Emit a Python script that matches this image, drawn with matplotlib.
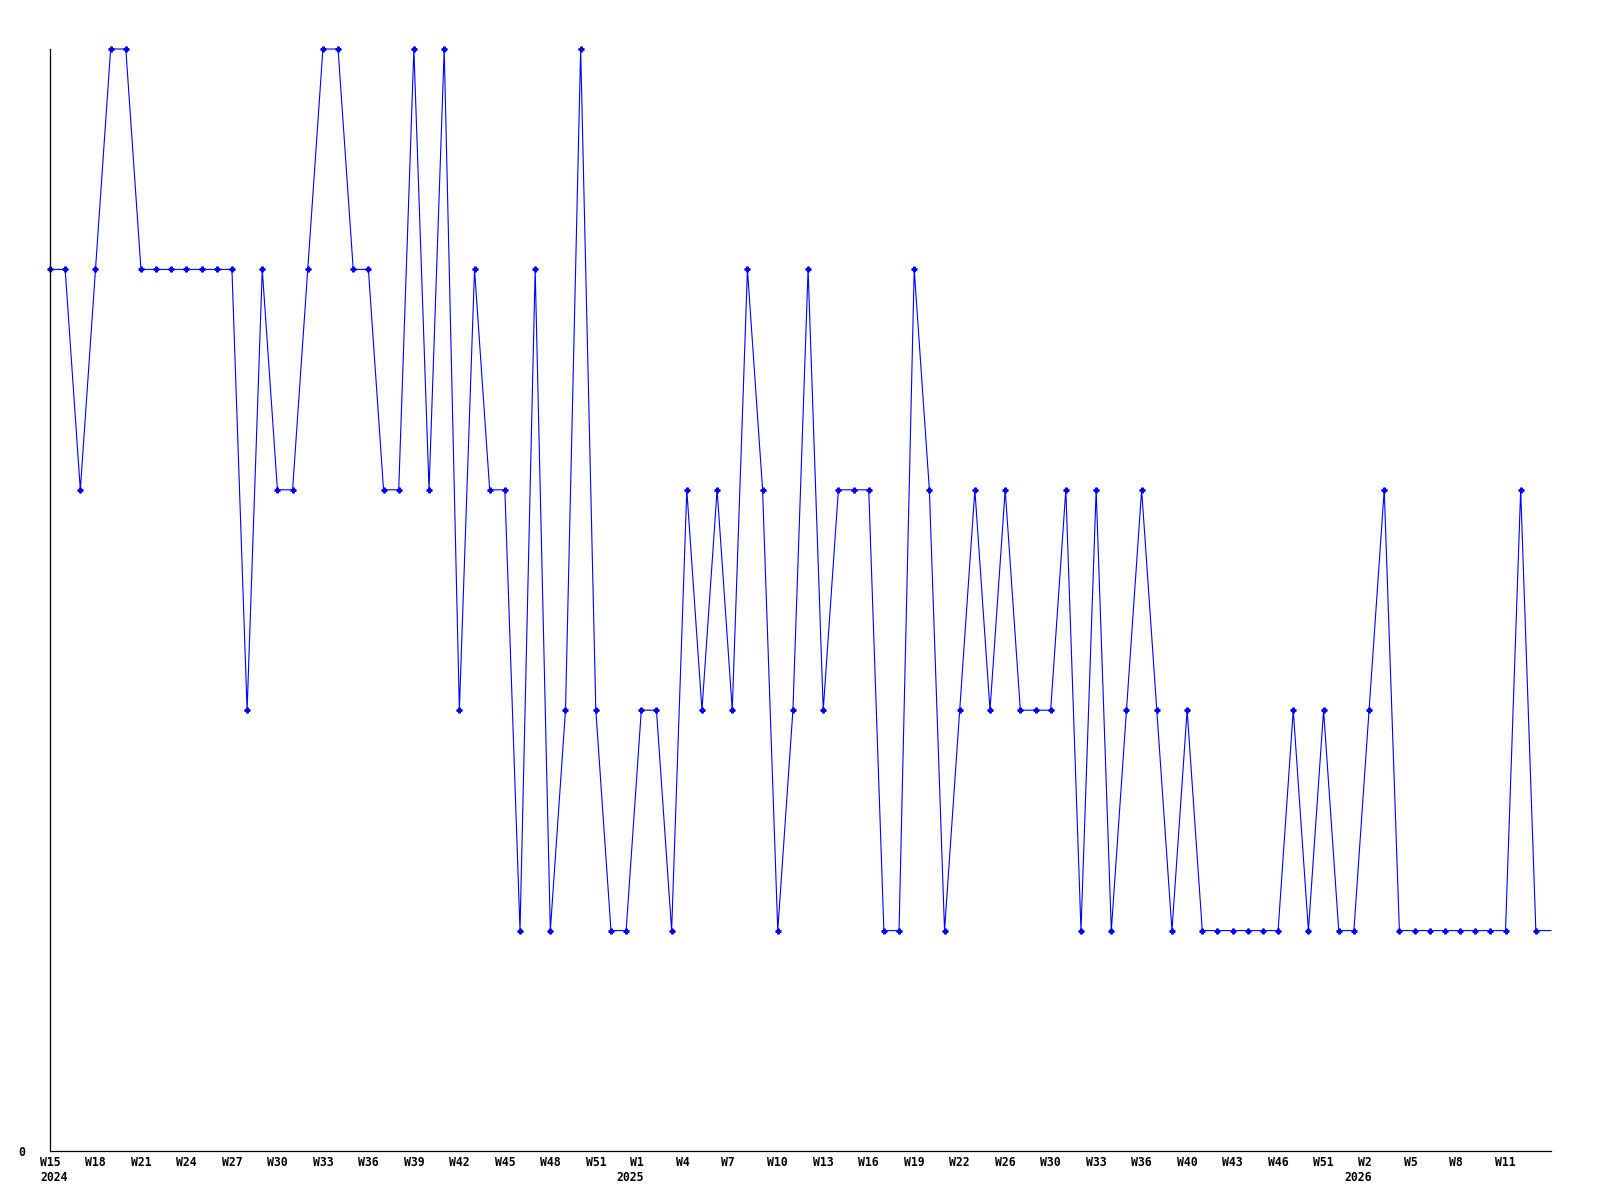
import matplotlib
matplotlib.use("Agg")
import matplotlib.pyplot as plt
import matplotlib.transforms as mtransforms

# weekly values, first point = 2024 W15, last one (current week) has no marker
values = [4, 4, 3, 4, 5, 5, 4, 4, 4, 4, 4, 4, 4, 2, 4, 3, 3, 4, 5, 5,
          4, 4, 3, 3, 5, 3, 5, 2, 4, 3, 3, 1, 4, 1, 2, 5, 2, 1, 1, 2,
          2, 1, 3, 2, 3, 2, 4, 3, 1, 2, 4, 2, 3, 3, 3, 1, 1, 4, 3, 1,
          2, 3, 2, 3, 2, 2, 2, 3, 1, 3, 1, 2, 3, 2, 1, 2, 1, 1, 1, 1,
          1, 1, 2, 1, 2, 1, 1, 2, 3, 1, 1, 1, 1, 1, 1, 1, 1, 3, 1, 1]

tick_pos = [0, 3, 6, 9, 12, 15, 18, 21, 24, 27, 30, 33, 36, 38, 41, 44, 48,
            51, 54, 57, 60, 63, 66, 69, 72, 75, 78, 81, 84, 86, 89, 92, 96]
tick_labels = ["W15", "W18", "W21", "W24", "W27", "W30", "W33", "W36", "W39",
               "W42", "W45", "W48", "W51", "W1", "W4", "W7", "W10", "W13",
               "W16", "W19", "W22", "W26", "W30", "W33", "W36", "W40", "W43",
               "W46", "W51", "W2", "W5", "W8", "W11"]
year_pos = [0, 38, 86]
year_labels = ["2024", "2025", "2026"]

DPI = 100
fig = plt.figure(figsize=(16, 12), dpi=DPI)
ax = fig.add_axes([50 / 1600, 49 / 1200, 1501 / 1600, 1102 / 1200])

x = list(range(len(values)))
ax.plot(x, values, color="#0000ff", lw=0.8, marker="P", ms=3.5,
        markevery=list(range(len(values) - 1)), clip_on=False)

ax.set_xlim(0, len(values) - 1)
ax.set_ylim(0, 5)

for side in ["top", "right"]:
    ax.spines[side].set_visible(False)
for side in ["left", "bottom"]:
    ax.spines[side].set_linewidth(0.9)
    ax.spines[side].set_color("black")

font = dict(family="DejaVu Sans Mono", weight="bold", size=8.3)

ax.set_yticks([0])
ax.set_yticklabels(["0"], fontdict=font)
ax.tick_params(axis="y", length=0, pad=18)

ax.set_xticks(tick_pos)
ax.set_xticklabels(tick_labels, fontdict=font)
ax.tick_params(axis="x", length=0, pad=3.8)

# short labels sit a bit to the right in the original
shift = mtransforms.ScaledTranslation(11 / DPI, 0, fig.dpi_scale_trans)
for lab in ax.get_xticklabels():
    if len(lab.get_text()) == 2:
        lab.set_transform(lab.get_transform() + shift)

for pos, yr in zip(year_pos, year_labels):
    off = mtransforms.ScaledTranslation(-10 / DPI, -20 / DPI, fig.dpi_scale_trans)
    ax.text(pos, 0, yr, transform=ax.get_xaxis_transform() + off,
            ha="left", va="top", **font)

fig.savefig("out.png", dpi=DPI)
